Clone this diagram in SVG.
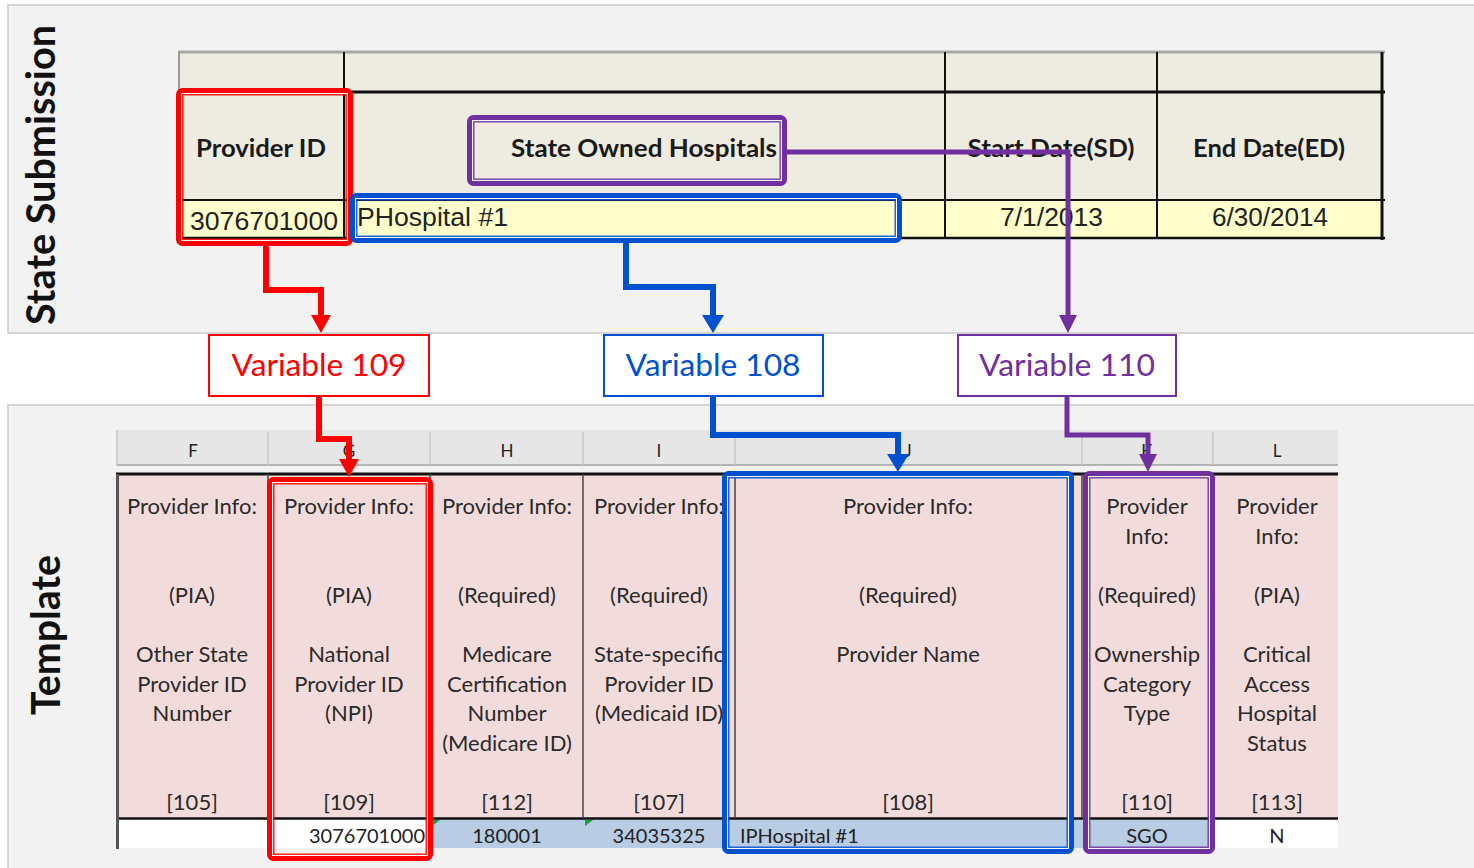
<svg xmlns="http://www.w3.org/2000/svg" width="1474" height="868" viewBox="0 0 1474 868">
<defs>
<style>
.panel{fill:#f2f2f2;stroke:#c8c8c8;stroke-width:1.5}
.side{font-family:Lato,'Open Sans',sans-serif;font-weight:700;font-size:40px;fill:#111;text-anchor:middle}
.hdr{fill:#eeece1}
.dat{fill:#ffffcc}
.th{font-family:Lato,'Open Sans',sans-serif;font-weight:700;font-size:24px;fill:#1a1a1a;text-anchor:middle}
.td{font-family:'Liberation Sans',Arial,sans-serif;font-size:25px;fill:#222}
.gl{stroke:#111;fill:none}
.var{fill:#fff;stroke-width:2}
.vt{font-family:Lato,'Open Sans',sans-serif;font-size:30px;text-anchor:middle}
.colh{fill:#e6e6e6}
.colt{font-family:Lato,'Open Sans',sans-serif;font-size:17px;fill:#222;text-anchor:middle}
.pink{fill:#f2dcdb}
.bt{font-family:Lato,'Open Sans',sans-serif;font-size:22px;fill:#2a2a2a;text-anchor:middle}
.bd{font-family:Lato,'Open Sans',sans-serif;font-size:20px;fill:#222}
.thick{fill:none;stroke-width:5}
.wl{fill:none;stroke:#fff;stroke-width:1.2}
.thin{fill:none;stroke-width:1.3}
.conn{fill:none;stroke-linejoin:miter}
</style>
<marker id="ah-red" viewBox="0 0 18 20" refX="8" refY="10" markerWidth="18" markerHeight="20" markerUnits="userSpaceOnUse" orient="auto"><path d="M0,0 L18,10 L0,20 z" fill="#ff0000"/></marker>
<marker id="ah-blue" viewBox="0 0 18 22" refX="8" refY="11" markerWidth="18" markerHeight="22" markerUnits="userSpaceOnUse" orient="auto"><path d="M0,0 L18,11 L0,22 z" fill="#0050d0"/></marker>
<marker id="ah-purple" viewBox="0 0 18 18" refX="8" refY="9" markerWidth="18" markerHeight="18" markerUnits="userSpaceOnUse" orient="auto"><path d="M0,0 L18,9 L0,18 z" fill="#7030a0"/></marker>
<clipPath id="clipI"><rect x="583" y="474" width="152" height="380"/></clipPath>
</defs>

<rect x="0" y="0" width="1474" height="868" fill="#ffffff"/>

<g id="panel-state-submission">
<rect class="panel" x="8" y="5" width="1470" height="328"/>
<text class="side" transform="translate(55,175) rotate(-90)" textLength="300" lengthAdjust="spacingAndGlyphs">State Submission</text>
</g>
<g id="panel-template">
<rect class="panel" x="8" y="405" width="1470" height="470"/>
<text class="side" transform="translate(60,635) rotate(-90)" textLength="160" lengthAdjust="spacingAndGlyphs">Template</text>
</g>

<g id="submission-table">
<rect class="hdr" x="178" y="52" width="1204" height="148"/>
<rect class="dat" x="178" y="200" width="1204" height="38"/>
<line x1="178" y1="52" x2="1385" y2="52" stroke="#a8a8a8" stroke-width="3"/>
<line class="gl" x1="178" y1="92" x2="1385" y2="92" stroke-width="3"/>
<line class="gl" x1="178" y1="200" x2="1385" y2="200" stroke-width="2"/>
<line class="gl" x1="178" y1="238" x2="1385" y2="238" stroke-width="2.5"/>
<line x1="179" y1="52" x2="179" y2="238" stroke="#999" stroke-width="2"/>
<line class="gl" x1="344" y1="52" x2="344" y2="238" stroke-width="2"/>
<line class="gl" x1="945" y1="52" x2="945" y2="238" stroke-width="2"/>
<line class="gl" x1="1157" y1="52" x2="1157" y2="238" stroke-width="2"/>
<line class="gl" x1="1382" y1="52" x2="1382" y2="240" stroke-width="3"/>
<text class="th" x="261" y="157" textLength="130" lengthAdjust="spacingAndGlyphs">Provider ID</text>
<text class="th" x="644" y="157" textLength="266" lengthAdjust="spacingAndGlyphs">State Owned Hospitals</text>
<text class="th" x="1051" y="157" textLength="167" lengthAdjust="spacingAndGlyphs">Start Date(SD)</text>
<text class="th" x="1269" y="157" textLength="152" lengthAdjust="spacingAndGlyphs">End Date(ED)</text>
<text class="td" x="190" y="230" textLength="148" lengthAdjust="spacingAndGlyphs">3076701000</text>
<text class="td" x="357" y="226" textLength="151" lengthAdjust="spacingAndGlyphs">PHospital #1</text>
<text class="td" x="1000" y="226" textLength="103" lengthAdjust="spacingAndGlyphs">7/1/2013</text>
<text class="td" x="1212" y="226" textLength="116" lengthAdjust="spacingAndGlyphs">6/30/2014</text>
</g>

<g id="highlight-provider-id">
<rect class="thick" stroke="#ff0000" x="178.5" y="90.5" width="172" height="153" rx="4"/>
<rect class="wl" x="181.6" y="93.6" width="165.8" height="146.8"/>
<rect class="thin" stroke="#ff0000" x="182.8" y="94.8" width="163.4" height="144.4"/>
</g>
<g id="highlight-state-owned">
<rect class="thick" stroke="#7030a0" x="469.5" y="117.5" width="315" height="66" rx="4"/>
<rect class="wl" x="472.6" y="120.6" width="308.8" height="59.8"/>
<rect class="thin" stroke="#7030a0" x="473.8" y="121.8" width="306.4" height="57.4"/>
</g>
<g id="highlight-hospital-name">
<rect class="thick" stroke="#0050d0" x="352.5" y="195.5" width="547" height="45" rx="4"/>
<rect class="wl" x="355.6" y="198.6" width="540.8" height="38.8"/>
<rect class="thin" stroke="#0050d0" x="356.8" y="199.8" width="538.4" height="36.4"/>
</g>

<g id="variable-109">
<rect class="var" stroke="#ff0000" x="209" y="335" width="220" height="61"/>
<text class="vt" fill="#ff0000" x="319" y="376" textLength="175" lengthAdjust="spacingAndGlyphs">Variable 109</text>
</g>
<g id="variable-108">
<rect class="var" stroke="#0050d0" x="604" y="335" width="219" height="61"/>
<text class="vt" fill="#0050d0" x="713" y="376" textLength="175" lengthAdjust="spacingAndGlyphs">Variable 108</text>
</g>
<g id="variable-110">
<rect class="var" stroke="#7030a0" x="958" y="335" width="218" height="61"/>
<text class="vt" fill="#7030a0" x="1067" y="376" textLength="176" lengthAdjust="spacingAndGlyphs">Variable 110</text>
</g>

<g id="template-table">
<rect class="colh" x="116" y="430" width="1222" height="35"/>
<line x1="116" y1="465" x2="1338" y2="465" stroke="#b4b4b4" stroke-width="2"/>
<line x1="117" y1="430" x2="117" y2="466" stroke="#c8c8c8" stroke-width="1.5"/>
<line x1="268" y1="432" x2="268" y2="465" stroke="#c8c8c8" stroke-width="1.5"/>
<line x1="430" y1="432" x2="430" y2="465" stroke="#c8c8c8" stroke-width="1.5"/>
<line x1="583" y1="432" x2="583" y2="465" stroke="#c8c8c8" stroke-width="1.5"/>
<line x1="735" y1="432" x2="735" y2="465" stroke="#c8c8c8" stroke-width="1.5"/>
<line x1="1082" y1="432" x2="1082" y2="465" stroke="#c8c8c8" stroke-width="1.5"/>
<line x1="1213" y1="432" x2="1213" y2="465" stroke="#c8c8c8" stroke-width="1.5"/>
<text class="colt" x="193" y="457">F</text>
<text class="colt" x="349" y="457">G</text>
<text class="colt" x="507" y="457">H</text>
<text class="colt" x="659" y="457">I</text>
<text class="colt" x="908" y="457">J</text>
<text class="colt" x="1147" y="457">K</text>
<text class="colt" x="1277" y="457">L</text>

<rect class="pink" x="116" y="474" width="1222" height="344"/>
<rect x="116" y="819" width="1222" height="29" fill="#ffffff"/>
<rect x="431" y="819" width="782" height="29" fill="#b8cce4"/>
<path d="M432,820 l8,0 l-8,6 z M585,820 l8,0 l-8,6 z" fill="#1e9e3a"/>
<line class="gl" x1="116" y1="474" x2="1338" y2="474" stroke-width="3"/>
<line class="gl" x1="116" y1="818.5" x2="1338" y2="818.5" stroke-width="2.5"/>
<line x1="117.5" y1="474" x2="117.5" y2="849" stroke="#555" stroke-width="3"/>
<line x1="268" y1="474" x2="268" y2="818" stroke="#444" stroke-width="1.5"/>
<line x1="430" y1="474" x2="430" y2="818" stroke="#444" stroke-width="1.5"/>
<line x1="583" y1="474" x2="583" y2="818" stroke="#444" stroke-width="1.5"/>
<line x1="735" y1="474" x2="735" y2="818" stroke="#444" stroke-width="1.5"/>
<line x1="1082" y1="474" x2="1082" y2="818" stroke="#444" stroke-width="1.5"/>
<line x1="1213" y1="474" x2="1213" y2="818" stroke="#444" stroke-width="1.5"/>

<g id="col-F">
<text class="bt" x="192" y="514">Provider Info:</text>
<text class="bt" x="192" y="603">(PIA)</text>
<text class="bt" x="192" y="662">Other State</text>
<text class="bt" x="192" y="692">Provider ID</text>
<text class="bt" x="192" y="721">Number</text>
<text class="bt" x="192" y="810">[105]</text>
</g>
<g id="col-G">
<text class="bt" x="349" y="514">Provider Info:</text>
<text class="bt" x="349" y="603">(PIA)</text>
<text class="bt" x="349" y="662">National</text>
<text class="bt" x="349" y="692">Provider ID</text>
<text class="bt" x="349" y="721">(NPI)</text>
<text class="bt" x="349" y="810">[109]</text>
<text class="bd" x="425" y="843" text-anchor="end">3076701000</text>
</g>
<g id="col-H">
<text class="bt" x="507" y="514">Provider Info:</text>
<text class="bt" x="507" y="603">(Required)</text>
<text class="bt" x="507" y="662">Medicare</text>
<text class="bt" x="507" y="692">Certification</text>
<text class="bt" x="507" y="721">Number</text>
<text class="bt" x="507" y="751">(Medicare ID)</text>
<text class="bt" x="507" y="810">[112]</text>
<text class="bd" x="507" y="843" text-anchor="middle">180001</text>
</g>
<g id="col-I" clip-path="url(#clipI)">
<text class="bt" x="659" y="514">Provider Info:</text>
<text class="bt" x="659" y="603">(Required)</text>
<text class="bt" x="659" y="662">State-specific</text>
<text class="bt" x="659" y="692">Provider ID</text>
<text class="bt" x="659" y="721">(Medicaid ID)</text>
<text class="bt" x="659" y="810">[107]</text>
<text class="bd" x="659" y="843" text-anchor="middle">34035325</text>
</g>
<g id="col-J">
<text class="bt" x="908" y="514">Provider Info:</text>
<text class="bt" x="908" y="603">(Required)</text>
<text class="bt" x="908" y="662">Provider Name</text>
<text class="bt" x="908" y="810">[108]</text>
<text class="bd" x="740" y="843">IPHospital #1</text>
</g>
<g id="col-K">
<text class="bt" x="1147" y="514">Provider</text>
<text class="bt" x="1147" y="544">Info:</text>
<text class="bt" x="1147" y="603">(Required)</text>
<text class="bt" x="1147" y="662">Ownership</text>
<text class="bt" x="1147" y="692">Category</text>
<text class="bt" x="1147" y="721">Type</text>
<text class="bt" x="1147" y="810">[110]</text>
<text class="bd" x="1147" y="843" text-anchor="middle">SGO</text>
</g>
<g id="col-L">
<text class="bt" x="1277" y="514">Provider</text>
<text class="bt" x="1277" y="544">Info:</text>
<text class="bt" x="1277" y="603">(PIA)</text>
<text class="bt" x="1277" y="662">Critical</text>
<text class="bt" x="1277" y="692">Access</text>
<text class="bt" x="1277" y="721">Hospital</text>
<text class="bt" x="1277" y="751">Status</text>
<text class="bt" x="1277" y="810">[113]</text>
<text class="bd" x="1277" y="843" text-anchor="middle">N</text>
</g>
</g>

<g id="highlight-col-G">
<rect class="thick" stroke="#ff0000" x="269.5" y="479.5" width="161" height="379" rx="4"/>
<rect class="wl" x="272.6" y="482.6" width="154.8" height="372.8"/>
<rect class="thin" stroke="#ff0000" x="273.8" y="483.8" width="152.4" height="370.4"/>
</g>
<g id="highlight-col-J">
<rect class="thick" stroke="#0050d0" x="724.5" y="473.5" width="347" height="378" rx="4"/>
<rect class="wl" x="727.6" y="476.6" width="340.8" height="371.8"/>
<rect class="thin" stroke="#0050d0" x="728.8" y="477.8" width="338.4" height="369.4"/>
</g>
<g id="highlight-col-K">
<rect class="thick" stroke="#7030a0" x="1085.5" y="473.5" width="127" height="378" rx="4"/>
<rect class="wl" x="1088.6" y="476.6" width="120.8" height="371.8"/>
<rect class="thin" stroke="#7030a0" x="1089.8" y="477.8" width="118.4" height="369.4"/>
</g>

<g id="connectors">
<path class="conn" d="M266,246 V290 H321 V323" stroke="#ff0000" stroke-width="6" marker-end="url(#ah-red)"/>
<path class="conn" d="M626,243 V287 H713 V323" stroke="#0050d0" stroke-width="6" marker-end="url(#ah-blue)"/>
<path class="conn" d="M787,152 H1068 V323" stroke="#7030a0" stroke-width="5" marker-end="url(#ah-purple)"/>
<path class="conn" d="M319,396 V439 H349 V467" stroke="#ff0000" stroke-width="6" marker-end="url(#ah-red)"/>
<path class="conn" d="M713,396 V435 H898 V462" stroke="#0050d0" stroke-width="6" marker-end="url(#ah-blue)"/>
<path class="conn" d="M1067,396 V435 H1148 V462" stroke="#7030a0" stroke-width="5" marker-end="url(#ah-purple)"/>
</g>
</svg>
